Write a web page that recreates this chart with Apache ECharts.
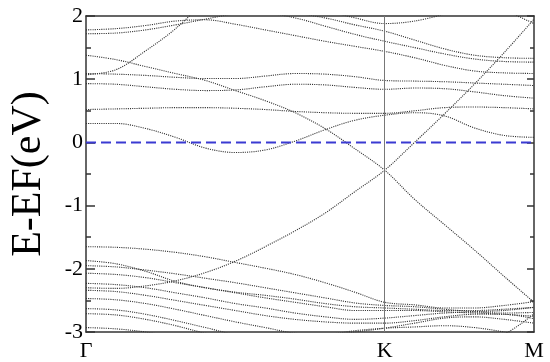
<!DOCTYPE html>
<html>
<head>
<meta charset="utf-8">
<script src="https://cdn.jsdelivr.net/npm/echarts@6/dist/echarts.min.js"></script>
<style>
  html, body { margin: 0; padding: 0; background: #fff; }
  #chart { width: 550px; height: 362px; }
</style>
</head>
<body>
<div id="chart"></div>
<script>
// k path: Γ -> K -> M
const kPoints = [0, 0.1, 0.2, 0.3, 0.4, 0.5, 0.6, 0.7, 0.8, 0.9, 1.0, 1.1, 1.2, 1.3, 1.4, 1.5]
const kLabelPos = [0, 1, 1.5]
const kLabels = ['Γ', 'K', 'M']
const fermiLevel = 0
const kPointK = 1

// conduction bands (eV), null = outside the window
const bandParabola = [1.07, 1.15, 1.45, 1.80, 2.25, null, null, null, null, null, null, null, null, null, null, null]
const bandHump1 = [1.78, 1.80, 1.85, 1.92, 1.94, 1.87, 1.78, 1.69, 1.60, 1.52, 1.44, 1.34, 1.22, 1.13, 1.10, 1.09]
const bandHump2 = [1.72, 1.73, 1.78, 1.86, 1.95, 2.03, 2.04, 1.97, 1.84, 1.71, 1.60, 1.50, 1.40, 1.32, 1.28, 1.27]
const bandTop1 = [null, null, null, null, null, null, 2.12, 2.05, 1.97, 1.86, 1.76, 1.62, 1.48, 1.38, 1.34, 1.33]
const bandTop2 = [null, null, null, null, null, null, null, 2.15, 2.08, 1.97, 1.88, 1.92, 2.03, null, null, null]
const bandTop3 = [null, null, null, null, null, null, null, null, null, null, null, null, null, null, 2.10, 1.88]
const bandFalling = [1.38, 1.31, 1.20, 1.09, 0.98, 0.82, 0.66, 0.47, 0.22, -0.10, -0.44, -0.90, -1.30, -1.70, -2.12, -2.53]
const bandMid1 = [1.09, 1.08, 1.06, 1.03, 1.01, 1.01, 1.05, 1.09, 1.08, 1.04, 0.98, 0.97, 0.96, 0.94, 0.92, 0.90]
const bandMid2 = [0.93, 0.92, 0.88, 0.84, 0.82, 0.83, 0.88, 0.92, 0.91, 0.87, 0.84, 0.86, 0.85, 0.80, 0.74, 0.70]
const bandFlat = [0.52, 0.53, 0.54, 0.55, 0.55, 0.54, 0.52, 0.49, 0.47, 0.46, 0.46, 0.50, 0.55, 0.56, 0.55, 0.53]
const bandFermi = [0.30, 0.30, 0.22, 0.08, -0.09, -0.16, -0.12, 0.02, 0.20, 0.35, 0.43, 0.47, 0.42, 0.23, 0.11, 0.08]

// valence bands (eV)
const bandRising = [-2.30, -2.31, -2.27, -2.19, -2.06, -1.88, -1.65, -1.40, -1.12, -0.78, -0.44, 0.00, 0.45, 0.92, 1.42, 1.95]
const bandV1 = [-1.65, -1.66, -1.69, -1.74, -1.81, -1.90, -1.99, -2.09, -2.22, -2.37, -2.53, -2.57, -2.62, -2.62, -2.58, -2.52]
const bandV2 = [-1.87, -1.92, -2.04, -2.20, -2.30, -2.37, -2.42, -2.48, -2.55, -2.60, -2.62, -2.64, -2.66, -2.66, -2.64, -2.61]
const bandV3 = [-1.95, -1.97, -2.02, -2.08, -2.15, -2.22, -2.30, -2.38, -2.46, -2.54, -2.58, -2.60, -2.64, -2.68, -2.70, -2.69]
const bandV4 = [-2.07, -2.09, -2.14, -2.22, -2.30, -2.38, -2.46, -2.53, -2.60, -2.66, -2.66, -2.66, -2.68, -2.70, -2.72, -2.75]
const bandV5 = [-2.23, -2.25, -2.30, -2.38, -2.46, -2.55, -2.62, -2.70, -2.76, -2.80, -2.78, -2.74, -2.70, -2.68, -2.66, -2.61]
const bandV6 = [-2.34, -2.36, -2.42, -2.50, -2.58, -2.66, -2.74, -2.80, -2.84, -2.86, -2.86, -2.82, -2.76, -2.72, -2.72, -2.79]
const bandV7 = [-2.47, -2.49, -2.55, -2.64, -2.74, -2.84, -2.93, -3.02, -3.05, -3.00, -2.94, -2.86, -2.78, -2.76, -2.80, -2.86]
const bandV8 = [-2.63, -2.65, -2.72, -2.82, -2.93, -3.04, -3.10, -3.10, -3.05, -2.98, -2.94, -2.92, -2.90, -2.93, -3.00, -3.10]
const bandV9 = [-2.71, -2.73, -2.80, -2.90, -3.02, -3.10, null, null, null, null, null, null, null, null, null, null]
const bandV10 = [-2.93, -2.95, -3.00, -3.08, null, null, null, null, null, null, null, null, null, null, null, null]
const bandV11 = [null, null, null, null, null, null, null, null, null, null, null, null, null, -3.10, -3.03, -2.71]

const bands = [
  bandParabola, bandHump1, bandHump2, bandTop1, bandTop2, bandTop3,
  bandFalling, bandMid1, bandMid2, bandFlat, bandFermi,
  bandRising, bandV1, bandV2, bandV3, bandV4, bandV5, bandV6, bandV7, bandV8, bandV9, bandV10, bandV11
]

const chart = echarts.init(document.getElementById('chart'))

const serif = '"Liberation Serif", "DejaVu Serif", serif'
const frame = { show: true, onZero: false, lineStyle: { color: '#333', width: 1.5 } }

const series = bands.map(band => ({
  type: 'line',
  data: kPoints.map((k, j) => [k, band[j]]),
  smooth: 0.35,
  symbol: 'none',
  silent: true,
  clip: true,
  lineStyle: { color: '#333', width: 1.1, type: 'dotted' }
}))

// K line
series[0].markLine = {
  silent: true,
  symbol: 'none',
  label: { show: false },
  lineStyle: { color: '#777', width: 1, type: 'solid' },
  data: [{ xAxis: kPointK }]
}

// Fermi level, dashed
series.push({
  type: 'line',
  data: [[kLabelPos[0], fermiLevel], [kLabelPos[2], fermiLevel]],
  symbol: 'none',
  silent: true,
  z: 5,
  lineStyle: { color: '#3a3ad2', width: 2, type: [10, 5] }
})

const option = {
  animation: false,
  grid: { left: 82, right: 16, top: 16, bottom: 29 },
  xAxis: [
    {
      type: 'value',
      min: 0,
      max: 1.5,
      interval: 0.5,
      axisLine: frame,
      axisTick: { show: false },
      splitLine: { show: false },
      axisLabel: {
        margin: 8,
        color: '#000',
        fontFamily: serif,
        fontSize: 22,
        formatter: v => {
          const idx = kLabelPos.indexOf(v)
          return idx >= 0 ? kLabels[idx] : ''
        }
      }
    },
    {
      type: 'value',
      position: 'top',
      min: 0,
      max: 1.5,
      axisLine: frame,
      axisTick: { show: false },
      axisLabel: { show: false },
      splitLine: { show: false }
    }
  ],
  yAxis: [
    {
      type: 'value',
      min: -3,
      max: 2,
      interval: 1,
      name: 'E-EF(eV)',
      nameLocation: 'middle',
      nameGap: 36,
      nameTextStyle: { fontFamily: serif, fontSize: 42, color: '#000' },
      axisLine: frame,
      axisTick: { inside: true, length: 9, lineStyle: { color: '#333', width: 1.5 } },
      minorTick: { show: true, splitNumber: 2, length: 5, lineStyle: { color: '#333', width: 1.5 } },
      splitLine: { show: false },
      axisLabel: { margin: 3, color: '#000', fontFamily: serif, fontSize: 22 }
    },
    {
      type: 'value',
      position: 'right',
      min: -3,
      max: 2,
      interval: 1,
      axisLine: frame,
      axisTick: { inside: true, length: 7, lineStyle: { color: '#333', width: 1.5 } },
      minorTick: { show: true, splitNumber: 2, length: 4, lineStyle: { color: '#333', width: 1.5 } },
      splitLine: { show: false },
      axisLabel: { show: false }
    }
  ],
  series: series
}

chart.setOption(option)
</script>
</body>
</html>
